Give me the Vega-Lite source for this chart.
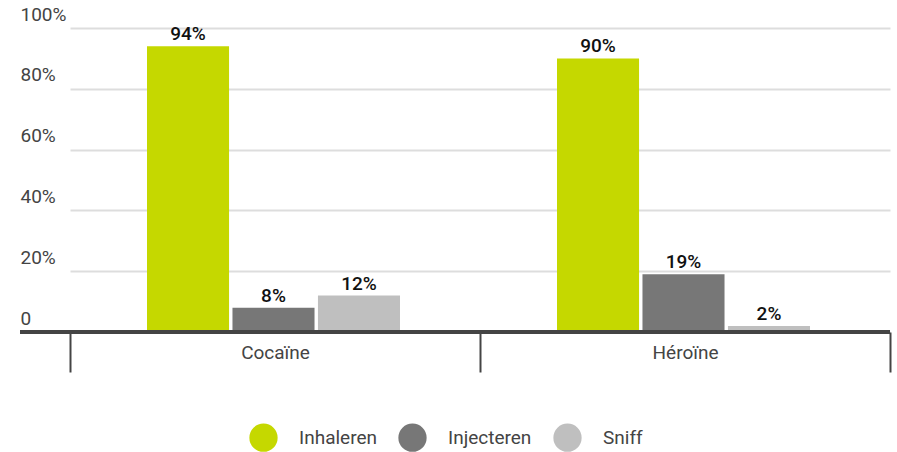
{
  "$schema": "https://vega.github.io/schema/vega-lite/v6.json",
  "width": 870,
  "height": 304,
  "autosize": {"type": "none"},
  "padding": {"left": 20, "top": 28, "right": 7, "bottom": 120},
  "background": "white",
  "config": {
    "view": {"stroke": null},
    "font": "Roboto"
  },
  "data": {
    "values": [
      {"drug": "Cocaïne", "method": "Inhaleren", "value": 0.94},
      {"drug": "Cocaïne", "method": "Injecteren", "value": 0.08},
      {"drug": "Cocaïne", "method": "Sniff", "value": 0.12},
      {"drug": "Héroïne", "method": "Inhaleren", "value": 0.90},
      {"drug": "Héroïne", "method": "Injecteren", "value": 0.19},
      {"drug": "Héroïne", "method": "Sniff", "value": 0.02}
    ]
  },
  "encoding": {
    "x": {
      "field": "drug",
      "type": "nominal",
      "sort": ["Cocaïne", "Héroïne"],
      "scale": {"range": [50, 870], "paddingInner": 0, "paddingOuter": 0},
      "axis": {
        "title": null,
        "domain": false,
        "grid": false,
        "ticks": true,
        "tickBand": "extent",
        "tickSize": 40,
        "tickWidth": 2,
        "tickColor": "#444444",
        "labelAngle": 0,
        "labelBaseline": "middle",
        "labelPadding": -20,
        "labelFontSize": 19,
        "labelColor": "#444444"
      }
    },
    "xOffset": {
      "field": "method",
      "type": "nominal",
      "sort": ["Inhaleren", "Injecteren", "Sniff"],
      "scale": {"range": [77, 330], "paddingInner": 0.04, "paddingOuter": 0}
    },
    "y": {
      "field": "value",
      "type": "quantitative",
      "scale": {"domain": [0, 1], "nice": false},
      "axis": {
        "title": null,
        "domain": false,
        "ticks": false,
        "grid": true,
        "gridColor": "#dddddd",
        "gridWidth": 2,
        "values": [0, 0.2, 0.4, 0.6, 0.8, 1],
        "format": ".0%",
        "labelExpr": "datum.value === 0 ? '0' : datum.label",
        "labelAlign": "left",
        "labelBaseline": "alphabetic",
        "labelPadding": 0,
        "labelOffset": -8,
        "labelFontSize": 19,
        "labelColor": "#444444",
        "labelOverlap": false,
        "labelBound": false
      }
    }
  },
  "layer": [
    {
      "mark": {"type": "bar"},
      "encoding": {
        "color": {
          "field": "method",
          "type": "nominal",
          "scale": {
            "domain": ["Inhaleren", "Injecteren", "Sniff"],
            "range": ["#c5d800", "#777777", "#bfbfbf"]
          },
          "legend": {
            "title": null,
            "orient": "none",
            "legendX": 229,
            "legendY": 395,
            "direction": "horizontal",
            "symbolType": "circle",
            "symbolSize": 800,
            "symbolStrokeWidth": 0,
            "symbolOpacity": 1,
            "labelFontSize": 19,
            "labelColor": "#444444",
            "labelOffset": 21,
            "columnPadding": 21
          }
        }
      }
    },
    {
      "mark": {"type": "text", "baseline": "alphabetic", "dy": -6, "fontSize": 19, "fontWeight": 500, "color": "#111111"},
      "encoding": {
        "text": {"field": "value", "type": "quantitative", "format": ".0%"},
        "detail": {"field": "method"}
      }
    },
    {
      "mark": {"type": "rule", "color": "#444444", "strokeWidth": 4},
      "encoding": {"y": {"datum": 0}, "x": null, "xOffset": null}
    }
  ]
}
